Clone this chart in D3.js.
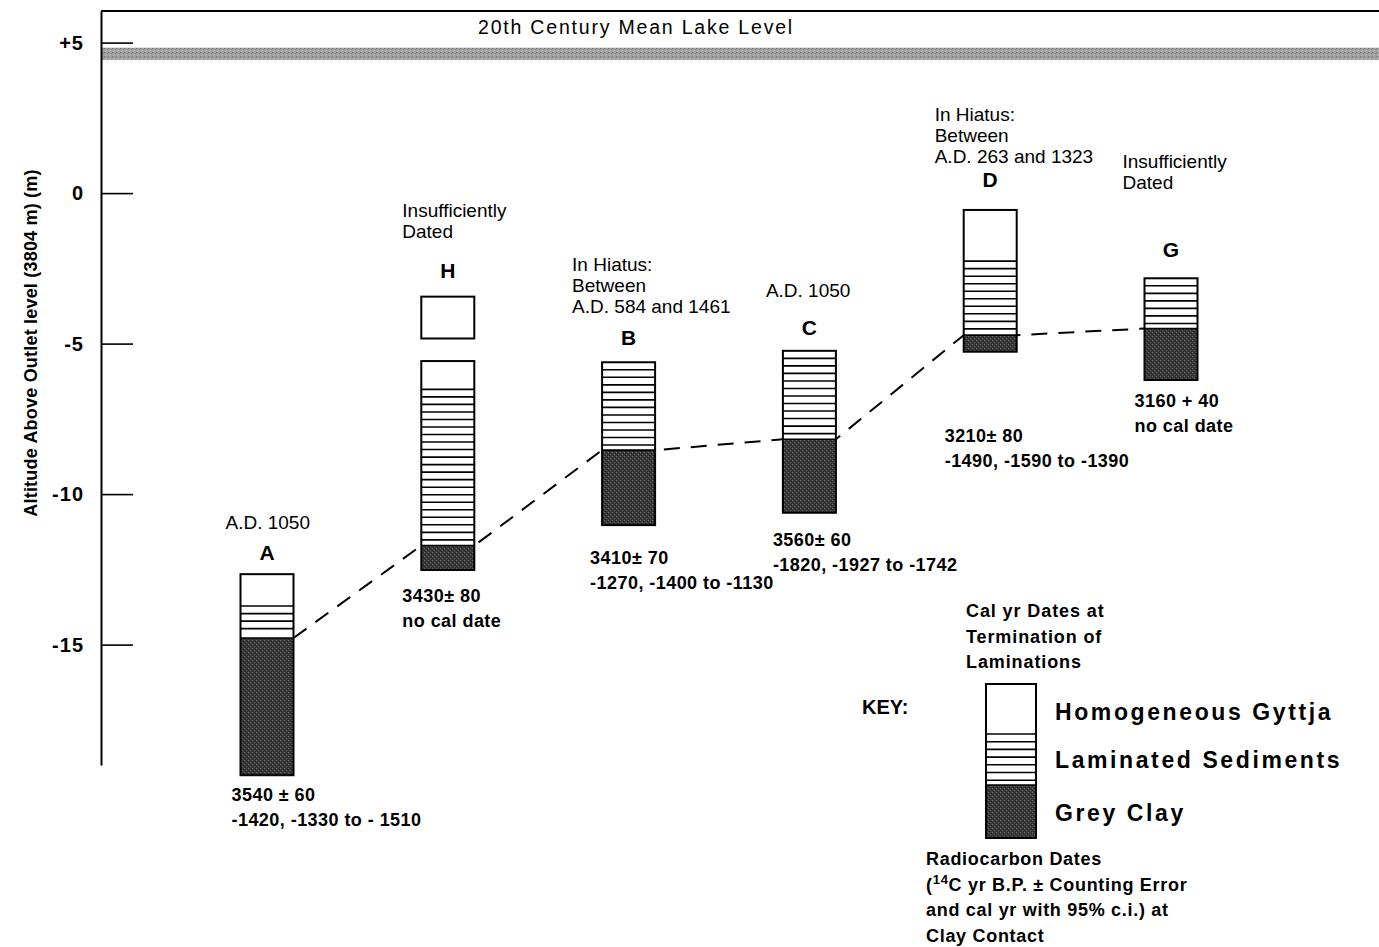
<!DOCTYPE html>
<html><head><meta charset="utf-8">
<script src="https://cdn.jsdelivr.net/npm/d3@7"></script>
<style>
body{margin:0;background:#fff;}
text{font-family:"Liberation Sans",Arial,Helvetica,sans-serif;fill:#000;}
</style>
</head><body>
<svg id="chart" width="1379" height="947"></svg>
<script>
// ---------------- DATA ----------------
const sites      = ["A", "H", "B", "C", "D", "G"];
const coreTop    = [-12.66, -5.58, -5.62, -5.24, -0.56, -2.83];
const gyttjaBase = [-13.72, -6.52, -5.62, -5.24, -2.26, -2.83];   // equal to top => no gyttja
const clayTop    = [-14.78, -11.71, -8.54, -8.18, -4.72, -4.50];  // clay contact (end of laminations)
const coreBase   = [-19.34, -12.52, -11.03, -10.62, -5.27, -6.21];
const detachedSites = ["H"];
const detachedTop   = [-3.44];
const detachedBase  = [-4.83];
const lakeLevelTop  = 4.83;
const lakeLevelBase = 4.42;
const yTicks      = [5, 0, -5, -10, -15];
const yTickLabels = ["+5", "0", "-5", "-10", "-15"];
const aboveNotes = [
  ["A.D. 1050"],
  ["Insufficiently", "Dated"],
  ["In Hiatus:", "Between", "A.D. 584 and 1461"],
  ["A.D. 1050"],
  ["In Hiatus:", "Between", "A.D. 263 and 1323"],
  ["Insufficiently", "Dated"]
];
const belowNotes = [
  ["3540 \u00b1 60", "-1420, -1330 to - 1510"],
  ["3430\u00b1 80", "no cal date"],
  ["3410\u00b1 70", "-1270, -1400 to -1130"],
  ["3560\u00b1 60", "-1820, -1927 to -1742"],
  ["3210\u00b1 80", "-1490, -1590 to -1390"],
  ["3160 + 40", "no cal date"]
];
const keyLabels = ["Homogeneous Gyttja", "Laminated Sediments", "Grey Clay"];
const keyTopNote = ["Cal yr Dates at", "Termination of", "Laminations"];
const keyBottomNote = ["Radiocarbon Dates", null, "and cal yr with 95% c.i.) at", "Clay Contact"];

// ---------------- LAYOUT / STYLE ----------------
const W = 1379;
const axisX = 101;
const colW = 53;
const lamStep = 0.25;            // spacing of lamination lines (m)
// per-site text offsets (pixels) relative to the column
const layout = {
  A: {ax: -15, ay: -45, ly: -14, bx: -9,  by: 26},
  H: {ax: -19, ay: -59, ly: -19, bx: -19, by: 32},
  B: {ax: -30, ay: -49, ly: -17, bx: -12, by: 39},
  C: {ax: -17, ay: -54, ly: -16, bx: -10, by: 33},
  D: {ax: -29, ay: -47, ly: -23, bx: -19, by: 90},
  G: {ax: -22, ay: -89, ly: -21, bx: -10, by: 27}
};

const svg = d3.select("#chart");
const defs = svg.append("defs");
function stipple(id, base, dots) {
  const p = defs.append("pattern").attr("id", id).attr("width", 4).attr("height", 4)
    .attr("patternUnits", "userSpaceOnUse");
  p.append("rect").attr("width", 4).attr("height", 4).attr("fill", base);
  dots.forEach(d => p.append("rect").attr("x", d[0]).attr("y", d[1]).attr("width", 1).attr("height", 1).attr("fill", d[2]));
}
stipple("clay", "#393939", [[0,0,"#6a6a6a"],[2,2,"#636363"],[3,1,"#1c1c1c"],[1,3,"#202020"]]);
stipple("band", "#9e9e9e", [[0,0,"#747474"],[2,2,"#c6c6c6"],[3,1,"#828282"],[1,3,"#bcbcbc"]]);

const y = d3.scaleLinear().domain([-19, 6.05]).range([765, 11]);
const x = d3.scalePoint().domain(sites).range([267, 1171]);

// top frame line
svg.append("line").attr("x1", axisX).attr("x2", W).attr("y1", y(6.05)).attr("y2", y(6.05))
  .attr("stroke", "#000").attr("stroke-width", 2);

// lake level band
svg.append("rect").attr("x", axisX).attr("width", W - axisX)
  .attr("y", y(lakeLevelTop)).attr("height", y(lakeLevelBase) - y(lakeLevelTop))
  .attr("fill", "url(#band)");
svg.append("text").attr("x", 636).attr("y", 34).attr("text-anchor", "middle")
  .attr("font-size", 19.5).attr("letter-spacing", 1.8).text("20th Century Mean Lake Level");

// axis
const axis = d3.axisLeft(y).tickValues(yTicks).tickFormat((d, i) => yTickLabels[i])
  .tickSize(-32).tickSizeOuter(0).tickPadding(17);
const gAxis = svg.append("g").attr("transform", `translate(${axisX},0)`).call(axis);
gAxis.select(".domain").attr("stroke-width", 2);
gAxis.selectAll(".tick line").attr("stroke-width", 1.6);
gAxis.selectAll(".tick text").attr("font-size", 20).attr("font-weight", "bold")
  .attr("letter-spacing", 1).attr("font-family", "Liberation Sans, Arial, sans-serif");

// y label
svg.append("text").attr("transform", "translate(37,343) rotate(-90)").attr("text-anchor", "middle")
  .attr("font-size", 18).attr("font-weight", "bold").attr("letter-spacing", 0.2)
  .text("Altitude Above Outlet level  (3804 m) (m)");

// dashed clay-contact line
const contactPts = [];
sites.forEach((s, i) => {
  contactPts.push([x(s) - colW / 2, y(clayTop[i])]);
  contactPts.push([x(s) + colW / 2, y(clayTop[i])]);
});
svg.append("path").attr("d", d3.line()(contactPts.slice(1, -1)))
  .attr("fill", "none").attr("stroke", "#000").attr("stroke-width", 2)
  .attr("stroke-dasharray", "16,11");

// columns
function drawColumn(g, x0, w, yTop, yClay, yBot, lines) {
  g.append("rect").attr("x", x0).attr("y", yTop).attr("width", w).attr("height", yBot - yTop).attr("fill", "#fff");
  if (yBot > yClay) {
    g.append("rect").attr("x", x0).attr("y", yClay).attr("width", w).attr("height", yBot - yClay).attr("fill", "url(#clay)");
  }
  lines.forEach(ly => g.append("line").attr("x1", x0).attr("x2", x0 + w).attr("y1", ly).attr("y2", ly)
    .attr("stroke", "#000").attr("stroke-width", 1.6));
  g.append("rect").attr("x", x0).attr("y", yTop).attr("width", w).attr("height", yBot - yTop)
    .attr("fill", "none").attr("stroke", "#000").attr("stroke-width", 2);
}

sites.forEach((s, i) => {
  const g = svg.append("g").attr("class", "core");
  const x0 = x(s) - colW / 2;
  const lamLines = [];
  if (gyttjaBase[i] < coreTop[i]) lamLines.push(y(gyttjaBase[i]));
  for (let v = gyttjaBase[i] - lamStep; v > clayTop[i] + lamStep * 0.4; v -= lamStep) lamLines.push(y(v));
  lamLines.push(y(clayTop[i]));
  drawColumn(g, x0, colW, y(coreTop[i]), y(clayTop[i]), y(coreBase[i]), lamLines);
});
detachedSites.forEach((s, j) => {
  const g = svg.append("g").attr("class", "core-detached");
  drawColumn(g, x(s) - colW / 2, colW, y(detachedTop[j]), y(detachedBase[j]), y(detachedBase[j]), []);
});

// labels
sites.forEach((s, i) => {
  const L = layout[s];
  const x0 = x(s) - colW / 2;
  const dIdx = detachedSites.indexOf(s);
  const topV = dIdx >= 0 ? Math.max(detachedTop[dIdx], coreTop[i]) : coreTop[i];
  const yTop = y(topV);
  const yBot = y(coreBase[i]);
  svg.append("text").attr("x", x(s)).attr("y", yTop + L.ly).attr("text-anchor", "middle")
    .attr("font-size", 21).attr("font-weight", "bold").text(s);
  const above = aboveNotes[i];
  above.forEach((t, k) => {
    svg.append("text").attr("x", x0 + L.ax).attr("y", yTop + L.ay - (above.length - 1 - k) * 21)
      .attr("font-size", 19).text(t);
  });
  belowNotes[i].forEach((t, k) => {
    svg.append("text").attr("x", x0 + L.bx).attr("y", yBot + L.by + k * 25)
      .attr("font-size", 18).attr("font-weight", "bold").attr("letter-spacing", 0.45).text(t);
  });
});

// key
const key = svg.append("g").attr("class", "key");
key.append("text").attr("x", 862).attr("y", 714).attr("font-size", 20).attr("font-weight", "bold").text("KEY:");
const kx = 986, kw = 50, kTop = 684, kGy = 734, kClay = 785, kBot = 838;
const kLines = [kGy];
for (let ly = kGy + 7.7; ly < kClay - 3; ly += 7.7) kLines.push(ly);
kLines.push(kClay);
drawColumn(key, kx, kw, kTop, kClay, kBot, kLines);
[720, 768, 821].forEach((by, k) => {
  key.append("text").attr("x", 1055).attr("y", by).attr("font-size", 23).attr("font-weight", "bold")
    .attr("letter-spacing", 2.6).text(keyLabels[k]);
});
keyTopNote.forEach((t, k) => {
  key.append("text").attr("x", 966).attr("y", 617 + k * 25.5).attr("font-size", 18).attr("font-weight", "bold")
    .attr("letter-spacing", 0.9).text(t);
});
keyBottomNote.forEach((t, k) => {
  const tx = key.append("text").attr("x", 926).attr("y", 865 + k * 25.6).attr("font-size", 18).attr("font-weight", "bold")
    .attr("letter-spacing", 0.7);
  if (t === null) {
    tx.append("tspan").text("(");
    tx.append("tspan").attr("font-size", 13).attr("dy", -7).text("14");
    tx.append("tspan").attr("dy", 7).text("C yr B.P. \u00b1 Counting Error");
  } else tx.text(t);
});
</script>
</body></html>
